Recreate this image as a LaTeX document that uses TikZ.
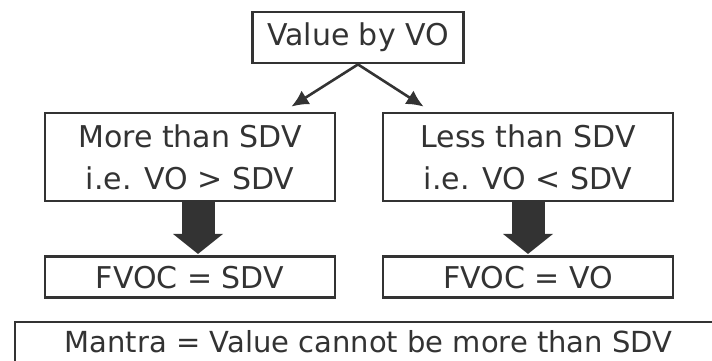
\documentclass[tikz,border=0pt]{standalone}
\usepackage{fontspec}
\setmainfont{DejaVu Sans}
\usepackage{xcolor}
\usetikzlibrary{arrows.meta, positioning}
\definecolor{ink}{HTML}{333333}
\tikzset{
  box/.style={draw=ink, line width=2.8pt, inner sep=0pt, align=center,
    text=ink, font=\fontsize{30}{42}\selectfont},
  bigbox/.style={box, minimum width=290pt, minimum height=88pt},
  smallbox/.style={box, minimum width=290pt, minimum height=41pt},
  thinarrow/.style={draw=ink, line width=2.6pt, -{Latex[length=17pt, width=16pt]}},
  blockarrow/.style={draw=ink, line width=33pt,
    -{Triangle[length=20pt, width=50pt, line width=0pt]}}
}

\begin{document}
\begin{tikzpicture}[x=1pt, y=-1pt]
    % Rahmen
    \clip (0,0) rectangle (712,360);
    % Kaestchen
    \node[box, minimum width=211pt, minimum height=51pt] (value) at (358,37.5) {Value by VO};
    \node[bigbox] (more) at (190,157) {More than SDV\\i.e. VO > SDV};
    \node[bigbox] (less) at (528,157) {Less than SDV\\i.e. VO < SDV};
    \node[smallbox, below=53pt of more] (fvocsdv) {FVOC = SDV};
    \node[smallbox, below=53pt of less] (fvocvo) {FVOC = VO};
    \node[box, minimum width=707pt, minimum height=40pt, font=\fontsize{29}{42}\selectfont]
        (mantra) at (368.5,342) {Mantra = Value cannot be more than SDV};
    % Pfeile
    \draw[thinarrow] (value.south) -- ([shift={(-45pt,5pt)}]more.north east);
    \draw[thinarrow] (value.south) -- ([shift={(42pt,5pt)}]less.north west);
    \draw[blockarrow] ([xshift=8pt]more.south) -- ([xshift=8pt, yshift=1.5pt]fvocsdv.north);
    \draw[blockarrow] (less.south) -- ([yshift=1.5pt]fvocvo.north);
\end{tikzpicture}
\end{document}
